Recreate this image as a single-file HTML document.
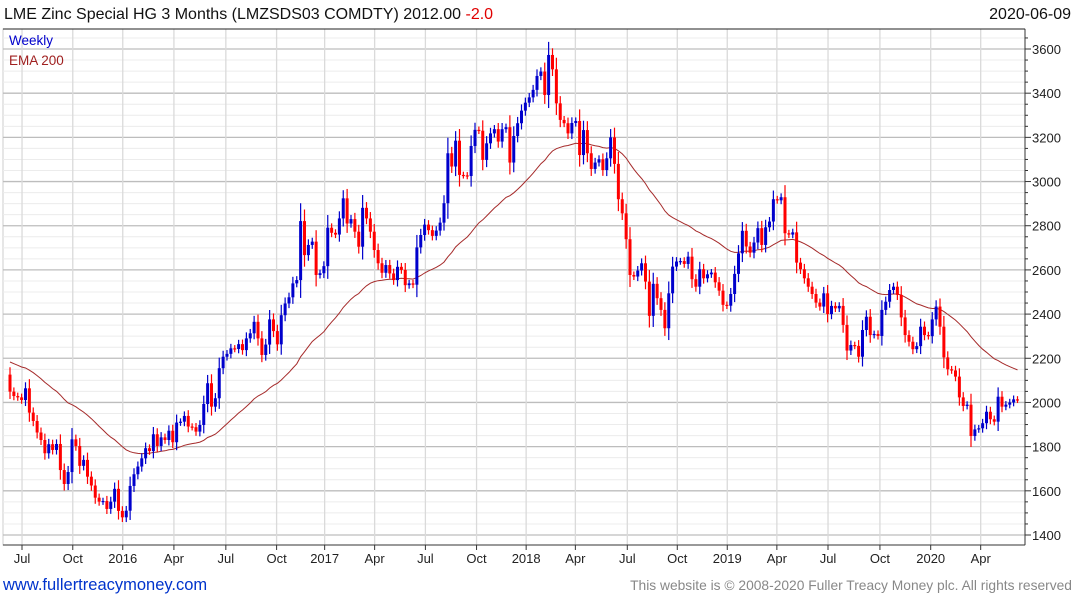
<!DOCTYPE html>
<html><head><meta charset="utf-8"><style>
body{margin:0;width:1075px;height:600px;background:#fff;overflow:hidden;font-family:"Liberation Sans",sans-serif}
svg{display:block}
</style></head><body>
<svg id="chart" width="1075" height="600" xmlns="http://www.w3.org/2000/svg">
<text x="4" y="19" font-size="16" fill="#111">LME Zinc Special HG 3 Months (LMZSDS03 COMDTY) 2012.00 <tspan fill="#e00000">-2.0</tspan></text>
<text x="1071" y="19" font-size="16" fill="#111" text-anchor="end">2020-06-09</text>
<g id="grid"></g><g id="ema"></g><g id="candles"></g><g id="axes"></g>
<text x="9" y="45" font-size="13.5" fill="#0000cc">Weekly</text>
<text x="9" y="65" font-size="13.5" fill="#a02020">EMA 200</text>
<text x="3" y="590" font-size="16.5" fill="#0033cc">www.fullertreacymoney.com</text>
<text x="1072" y="590" font-size="13.8" fill="#888" text-anchor="end">This website is © 2008-2020 Fuller Treacy Money plc. All rights reserved</text>
</svg>
<script>
const closes=[2049,2029,2023,2011,2064,1954,1916,1864,1830,1770,
1811,1785,1812,1694,1631,1685,1833,1803,1713,1740,
1664,1624,1569,1551,1554,1518,1551,1609,1509,1480,
1510,1622,1675,1710,1747,1793,1780,1856,1803,1842,
1830,1872,1820,1909,1913,1939,1891,1888,1868,1898,
1993,2087,1981,2019,2155,2207,2220,
2245,2242,2264,2237,2290,2313,2365,2290,2215,2262,
2376,2323,2263,2395,2448,2476,2539,2554,2821,2667,
2713,2728,2577,2585,2617,2791,2768,2760,2833,2924,
2810,2830,2773,2705,2881,2833,2773,2690,2630,2587,
2622,2584,2554,2614,2600,2531,2539,2533,2702,2758,2805,
2780,2754,2778,2814,2902,3128,3068,3185,3030,3028,
3025,3161,3234,3230,3098,3173,3218,3237,3181,3237,
3246,3086,3206,3264,3321,3357,3381,3415,3478,3498,
3392,3573,3508,3354,3279,3264,3218,3265,3274,3120,
3233,3128,3057,3086,3101,3052,3105,3200,3080,2920,
2856,2739,2577,
2570,2597,2630,2547,2392,2537,2472,2419,2336,2494,
2615,2638,2640,2627,2660,2558,2524,2603,2562,2580,
2588,2544,2506,2442,2438,2491,2582,2675,2777,2706,
2678,2724,2789,2713,2793,2819,2920,2915,2929,2766,
2760,2770,2633,2603,2562,2524,2491,2452,2434,2494,
2400,2437,
2426,2437,2351,2235,2260,2256,2207,2328,2388,2305,
2310,2301,2419,2456,2509,2524,2487,2385,2305,2275,
2241,2255,2343,2305,2300,2376,2434,2343,2204,2150,
2145,2117,2023,1984,1990,1848,1878,1883,1906,1958,
1924,1913,2026,1981,1990,2000,2014,2012];
const firstOpen=2126;
const emaSeed=2190;
const emaPeriod=40;
const yTicks=[1400,1600,1800,2000,2200,2400,2600,2800,3000,3200,3400,3600];
const xTickLabels=["Jul","Oct","2016","Apr","Jul","Oct","2017","Apr","Jul","Oct","2018","Apr","Jul","Oct","2019","Apr","Jul","Oct","2020","Apr"];
const xTickWeeks=[3.1,16.2,29.1,42.3,55.7,68.8,81.2,94.1,107.2,120.4,133.2,145.9,159.3,172.2,185.1,197.9,211.1,224.5,237.6,250.5];

const NS="http://www.w3.org/2000/svg";
const L=3,R=1025,T=29,B=545;
const yv=p=>49+(3600-p)*(486/2200);
const xv=i=>10+i*3.875;
function mk(tag,attrs,parent){const e=document.createElementNS(NS,tag);for(const k in attrs)e.setAttribute(k,attrs[k]);parent.appendChild(e);return e;}
const grid=document.getElementById('grid'),axes=document.getElementById('axes'),cg=document.getElementById('candles'),eg=document.getElementById('ema');
mk('rect',{x:L,y:T,width:R-L,height:B-T,fill:'#fff',stroke:'#ccc'},grid);
for(let p=1400;p<=3650;p+=50){const y=yv(p);if(y<T)continue;
 const major=p%200===0;
 const ln=mk('line',{x1:L,x2:R,y1:y,y2:y,stroke:major?'#bdbdbd':'#ececec','stroke-width':major?1.3:1},grid);
 
 mk('line',{x1:R,x2:R+(major?6:3),y1:y,y2:y,stroke:'#333'},axes);}
xTickWeeks.forEach((w,k)=>{const x=xv(w);
 const ln=mk('line',{x1:x,x2:x,y1:T,y2:B,stroke:'#dadada','stroke-width':1.3},grid);
 
 mk('line',{x1:x,x2:x,y1:B,y2:B+5,stroke:'#333'},axes);
 const t=mk('text',{x:x,y:563,'font-size':13,fill:'#222','text-anchor':'middle'},axes);t.textContent=xTickLabels[k];
 });
yTicks.forEach(p=>{const t=mk('text',{x:1032,y:yv(p)+5,'font-size':13,fill:'#222'},axes);t.textContent=p;
 });
mk('line',{x1:R,x2:R,y1:T,y2:B,stroke:'#333'},axes);
mk('line',{x1:L,x2:R,y1:B,y2:B,stroke:'#333'},axes);
mk('line',{x1:L,x2:R,y1:T,y2:T,stroke:'#222'},axes);
// EMA
let ema=emaSeed;const a=2/(emaPeriod+1);let pts=[];
closes.forEach((c,i)=>{ema=ema+a*(c-ema);pts.push(xv(i).toFixed(1)+','+yv(ema).toFixed(1));});
const pl=mk('polyline',{points:pts.join(' '),fill:'none',stroke:'#a52a2a','stroke-width':1},eg);

// candles
closes.forEach((c,i)=>{const o=i?closes[i-1]:firstOpen;const up=c>=o;const col=up?'#0000cc':'#ff0000';
 const hi=Math.max(o,c),lo=Math.min(o,c);const w=14+Math.abs(c-o)*0.25;
 const g=mk('g',{},cg);
 
 const x=xv(i);
 mk('line',{x1:x,x2:x,y1:yv(hi+w),y2:yv(lo-w),stroke:col,'stroke-width':1.2},g);
 const y1=yv(hi),y2=yv(lo);
 mk('rect',{x:x-1.5,y:y1,width:3,height:Math.max(1.2,y2-y1),fill:col},g);});
</script>
</body></html>
